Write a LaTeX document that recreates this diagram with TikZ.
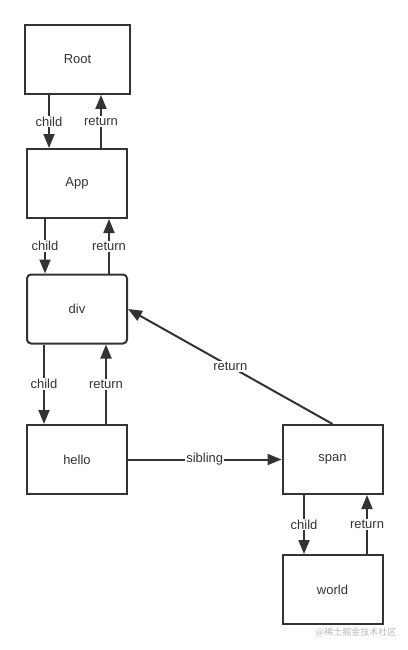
\documentclass[tikz,border=0pt]{standalone}
\usepackage{fontspec}
\setmainfont{Liberation Sans}
\newfontfamily\cjk{Noto Sans CJK SC}
\usetikzlibrary{arrows.meta}
\definecolor{fiberdark}{HTML}{333333}
\definecolor{fibergray}{HTML}{B8B8B8}

\begin{document}
\begin{tikzpicture}[x=1pt, y=-1pt,
    fiber/.style={draw=fiberdark, line width=2pt, fill=white, text=fiberdark,
                  minimum width=100pt, minimum height=69pt, font=\fontsize{13}{15}\selectfont},
    arrow/.style={-{Triangle[length=14pt, width=11pt]}, draw=fiberdark, line width=2pt},
    tag/.style={fill=white, text=fiberdark, inner sep=1pt, font=\fontsize{13}{15}\selectfont}
  ]
    \useasboundingbox (0,0) rectangle (407,650);

    \node[fiber, minimum width=105pt] (root)  at (77.5, 59.5)  {Root};
    \node[fiber]                      (app)   at (77,  183.5)  {App};
    \node[fiber, rounded corners=4pt] (div)   at (77,  309)    {div};
    \node[fiber]                      (hello) at (77,  459.5)  {hello};
    \node[fiber]                      (span)  at (332.5, 459.5) {span};
    \node[fiber]                      (world) at (332.5, 589.5) {world};

    \draw[arrow] ([xshift=-28.5pt]root.south) -- ([xshift=-28pt]app.north) node[tag, midway] {child};
    \draw[arrow] ([xshift=24pt]app.north) -- ([xshift=23.5pt]root.south) node[tag, midway] {return};

    \draw[arrow] ([xshift=-32pt]app.south) -- ([xshift=-32pt]div.north) node[tag, midway] {child};
    \draw[arrow] ([xshift=32pt]div.north) -- ([xshift=32pt]app.south) node[tag, midway] {return};

    \draw[arrow] ([xshift=-33pt]div.south) -- ([xshift=-33pt]hello.north) node[tag, midway] {child};
    \draw[arrow] ([xshift=29pt]hello.north) -- ([xshift=29pt]div.south) node[tag, midway] {return};

    \draw[arrow] (hello.east) -- (span.west) node[tag, midway] {sibling};
    \draw[arrow] (span.north) -- (div.east) node[tag, midway] {return};

    \draw[arrow] ([xshift=-28.5pt]span.south) -- ([xshift=-28.5pt]world.north) node[tag, midway] {child};
    \draw[arrow] ([xshift=34.5pt]world.north) -- ([xshift=34.5pt]span.south) node[tag, midway] {return};

    \node[text=fibergray, inner sep=0pt, font=\cjk\fontsize{9}{10}\selectfont] (mark) at (356, 632) {@稀土掘金技术社区};
  \end{tikzpicture}
\end{document}
